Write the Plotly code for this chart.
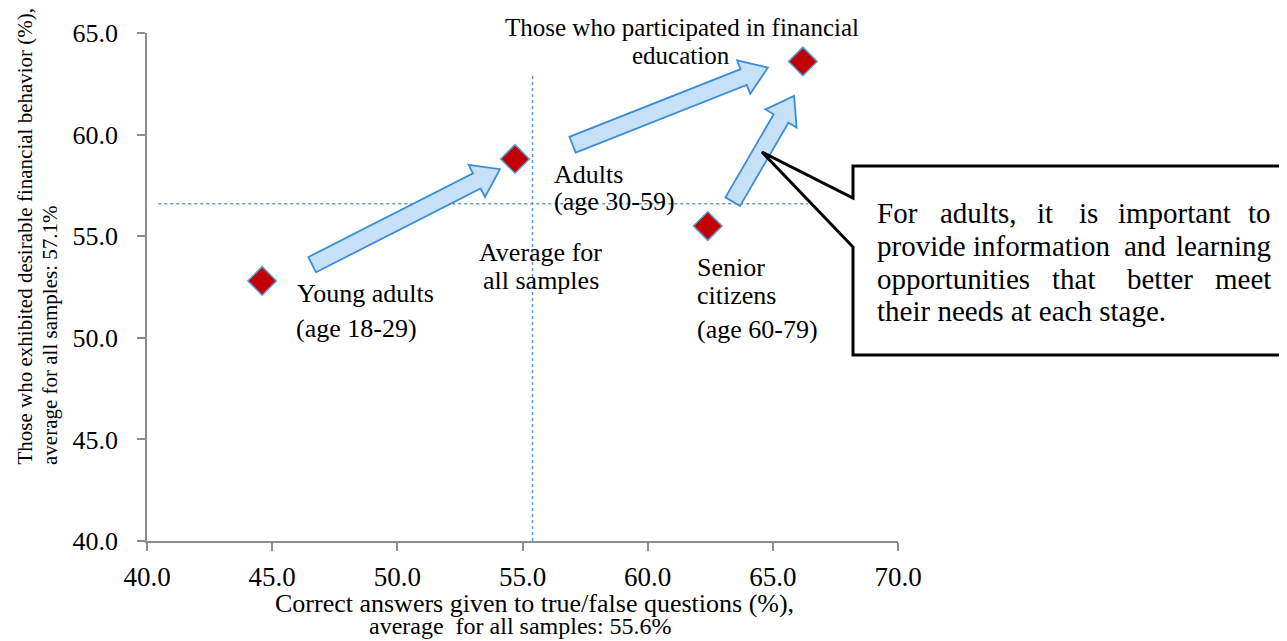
import math
import plotly.graph_objects as go

# ---- data ----
group_names = ["Young adults", "Adults", "Senior citizens", "Financial education participants"]
correct_answers = [44.6, 54.7, 62.4, 66.2]      # x (%)
desirable_behavior = [52.8, 58.8, 55.5, 63.6]   # y (%)
avg_x_line = 55.4
avg_y_line = 56.6

x_ticks = [40, 45, 50, 55, 60, 65, 70]
y_ticks = [40, 45, 50, 55, 60, 65]

# arrow (tail, tip) pairs in data units
arrow_tails = [(46.6, 53.6), (57.0, 59.5), (63.4, 56.7)]
arrow_tips = [(54.1, 58.3), (64.8, 63.3), (65.85, 61.9)]

# ---- page geometry (page pixels) ----
W, H = 1287, 641
OFF = 8  # default body margin of the html page
ML, MR, MT, MB = 147, 389, 33, 100
PW, PH = W - ML - MR, H - MT - MB
XR = (40, 70)
YR = (40, 65)


def d2p(x, y):
    px = ML + (x - XR[0]) / (XR[1] - XR[0]) * PW
    py = MT + (YR[1] - y) / (YR[1] - YR[0]) * PH
    return px, py


def p2d(px, py):
    x = XR[0] + (px - ML) / PW * (XR[1] - XR[0])
    y = YR[1] - (py - MT) / PH * (YR[1] - YR[0])
    return x, y


def p2paper(px, py):
    return (px - ML) / PW, (H - MB - py) / PH


FONT = "Liberation Serif, Times New Roman, serif"
BLUE = "#5B9BD5"

fig = go.Figure()

shapes = []
# average dotted lines
shapes.append(dict(type="line", xref="x", yref="y", x0=avg_x_line, x1=avg_x_line, y0=40, y1=63.0,
                   line=dict(color=BLUE, width=1.5, dash="dot"), layer="below"))
shapes.append(dict(type="line", xref="x", yref="y", x0=40.45, x1=66.4, y0=avg_y_line, y1=avg_y_line,
                   line=dict(color=BLUE, width=1.5, dash="dot"), layer="below"))

# block arrows
shaft_half = 8.5
head_half = 18
head_len = 26
for (tx, ty), (hx, hy) in zip(arrow_tails, arrow_tips):
    x0, y0 = d2p(tx, ty)
    x1, y1 = d2p(hx, hy)
    L = math.hypot(x1 - x0, y1 - y0)
    ux, uy = (x1 - x0) / L, (y1 - y0) / L
    nx, ny = -uy, ux
    bx, by = x1 - ux * head_len, y1 - uy * head_len
    pts = [
        (x0 + nx * shaft_half, y0 + ny * shaft_half),
        (bx + nx * shaft_half, by + ny * shaft_half),
        (bx + nx * head_half, by + ny * head_half),
        (x1, y1),
        (bx - nx * head_half, by - ny * head_half),
        (bx - nx * shaft_half, by - ny * shaft_half),
        (x0 - nx * shaft_half, y0 - ny * shaft_half),
    ]
    dpts = [p2d(px, py) for px, py in pts]
    path = "M " + " L ".join(f"{a:.4f},{b:.4f}" for a, b in dpts) + " Z"
    shapes.append(dict(type="path", xref="x", yref="y", path=path,
                       fillcolor="#C6E0F7", line=dict(color="#3C8DD8", width=1.8), layer="above"))

# callout box
box_pts = [(853, 166), (1300, 166), (1300, 355), (853, 355), (853, 247), (762, 152), (853, 198)]
ppts = [p2paper(a, b) for a, b in box_pts]
path = "M " + " L ".join(f"{a:.5f},{b:.5f}" for a, b in ppts) + " Z"
shapes.append(dict(type="path", xref="paper", yref="paper", path=path,
                   fillcolor="white", line=dict(color="black", width=3), layer="above"))

fig.add_trace(go.Scatter(
    x=correct_answers, y=desirable_behavior, mode="markers",
    marker=dict(symbol="diamond", size=22, color="#C00000", line=dict(color=BLUE, width=1.5)),
    hoverinfo="text", text=group_names, showlegend=False, cliponaxis=False))

annotations = []


def pix_label(text, px, py, anchor="left", size=26, yanchor="middle", angle=0):
    x, y = p2paper(px, py)
    annotations.append(dict(x=x, y=y, xref="paper", yref="paper", text=text, showarrow=False,
                            xanchor=anchor, yanchor=yanchor, textangle=angle,
                            font=dict(family=FONT, size=size, color="black")))


pix_label("Young adults", 295, 293)
pix_label("(age 18-29)", 294, 328)
pix_label("Adults", 552, 175)
pix_label("(age 30-59)", 552, 202)
pix_label("Average for", 477, 252)
pix_label("all samples", 481, 280)
pix_label("Senior", 695, 267)
pix_label("citizens", 695, 295)
pix_label("(age 60-79)", 695, 329)
pix_label("Those who participated in financial", 682, 27, "center", size=25)
pix_label("education", 681, 55, "center", size=25)

# callout text: justified lines, words placed individually (last word right-aligned)
box_words = [
    [("For", 875, "left"), ("adults,", 938, "left"), ("it", 1035, "left"), ("is", 1077, "left"),
     ("important", 1116, "left"), ("to", 1273, "right")],
    [("provide", 875, "left"), ("information", 971, "left"), ("and", 1122, "left"),
     ("learning", 1273, "right")],
    [("opportunities", 875, "left"), ("that", 1050, "left"), ("better", 1125, "left"),
     ("meet", 1273, "right")],
    [("their needs at each stage.", 875, "left")],
]
box_line_y = [213, 246, 279, 311]
for words, py in zip(box_words, box_line_y):
    for w, px, anc in words:
        pix_label(w, px, py, anchor=anc, size=29)

# axis titles
pix_label("Correct answers given to true/false questions (%),", 534, 603, "center", size=26)
pix_label("average  for all samples: 55.6%", 520, 626, "center", size=24)
pix_label("Those who exhibited desirable financial behavior (%),", 24, 467, "center", size=21,
          yanchor="bottom", angle=-90)
pix_label("average for all samples: 57.1%", 50, 467, "center", size=21,
          yanchor="bottom", angle=-90)

axis_common = dict(showgrid=False, zeroline=False, showline=True, linecolor="#8C8C8C", linewidth=1.5,
                   ticks="outside", ticklen=8, tickcolor="#8C8C8C", tickwidth=1.5)

fig.update_layout(
    width=W - OFF, height=H - OFF,
    margin=dict(l=ML - OFF, r=MR, t=MT - OFF, b=MB, autoexpand=False),
    plot_bgcolor="white", paper_bgcolor="white",
    shapes=shapes, annotations=annotations,
    font=dict(family=FONT, size=22, color="black"),
    xaxis=dict(range=list(XR), tickvals=x_ticks, ticktext=[f"{v:.1f}" for v in x_ticks],
               tickfont=dict(family=FONT, size=27), ticklabelstandoff=3, **axis_common),
    yaxis=dict(range=list(YR), tickvals=y_ticks, ticktext=[f"{v:.1f}" for v in y_ticks],
               tickfont=dict(family=FONT, size=26), ticklabelstandoff=14, **axis_common),
)

fig.write_html("out.html")
